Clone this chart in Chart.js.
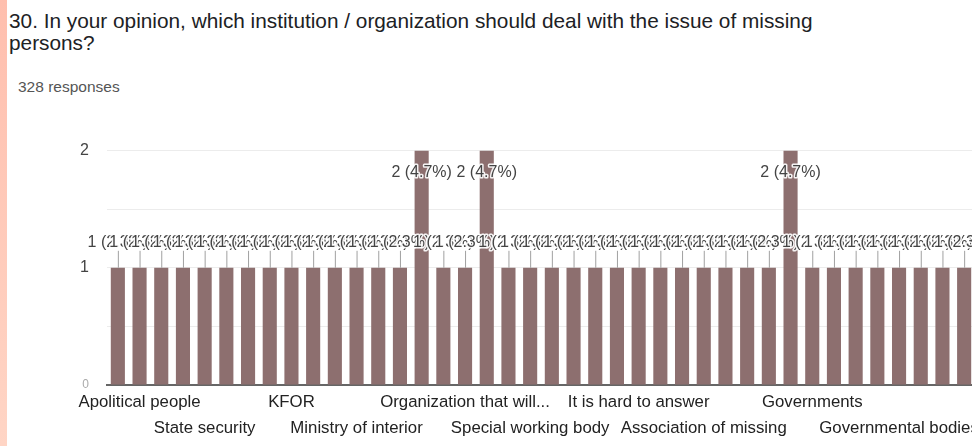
<!DOCTYPE html>
<html>
<head>
<meta charset="utf-8">
<script src="https://cdn.jsdelivr.net/npm/chart.js@4"></script>
<style>
  body { margin: 0; width: 972px; height: 446px; overflow: hidden; background: #fff; font-family: "Liberation Sans", Arial, sans-serif; position: relative; }
  #strip { position: absolute; left: 0; top: 0; width: 7px; height: 446px; background: linear-gradient(#ffbfae, #ffd5c5); }
  #title { position: absolute; left: 9px; top: 10px; font-size: 20.8px; line-height: 22px; color: #202124; }
  #count { position: absolute; left: 18px; top: 78px; font-size: 15.5px; color: #555; }
  #wrap { position: absolute; left: 0; top: 123px; }
</style>
</head>
<body>
<div id="strip"></div>
<div id="title">30. In your opinion, which institution / organization should deal with the issue of missing<br>persons?</div>
<div id="count">328 responses</div>
<div id="wrap"><canvas id="grafico" width="990" height="323"></canvas></div>
<script>
// 40 answers, only the labels that the chart prints are known
var categorias = [
  "", "Apolitical people", "", "", "State security", "", "", "", "KFOR", "",
  "", "Ministry of interior", "", "", "", "", "Organization that will...", "", "", "Special working body",
  "", "", "", "", "It is hard to answer", "", "", "Association of missing", "", "",
  "", "", "Governments", "", "", "", "Governmental bodies", "", "", ""
];
var respuestas = [
  1, 1, 1, 1, 1, 1, 1, 1, 1, 1,
  1, 1, 1, 1, 2, 1, 1, 2, 1, 1,
  1, 1, 1, 1, 1, 1, 1, 1, 1, 1,
  1, 2, 1, 1, 1, 1, 1, 1, 1, 1
];
var ticksY = [0, 1, 2];

var total = respuestas.reduce(function (a, b) { return a + b; }, 0);

// etiquetas "n (x%)" sobre cada barra, con halo blanco como en Google Forms
var anotaciones = {
  id: "anotaciones",
  afterDatasetsDraw: function (chart) {
    var ctx = chart.ctx;
    var meta = chart.getDatasetMeta(0);
    ctx.save();
    ctx.font = "16px 'Liberation Sans', Arial, sans-serif";
    ctx.textAlign = "center";
    ctx.textBaseline = "middle";
    ctx.lineJoin = "round";
    meta.data.forEach(function (bar, i) {
      var v = respuestas[i];
      var texto = v + " (" + (v / total * 100).toFixed(1) + "%)";
      var y;
      if (v >= 2) {
        y = bar.y + 22;
      } else {
        ctx.strokeStyle = "#a0a0a0";
        ctx.lineWidth = 1;
        ctx.beginPath();
        ctx.moveTo(bar.x + 0.5, bar.y);
        ctx.lineTo(bar.x + 0.5, bar.y - 17);
        ctx.stroke();
        y = bar.y - 25;
      }
      ctx.strokeStyle = "rgba(255,255,255,0.9)";
      ctx.lineWidth = 3;
      ctx.strokeText(texto, bar.x, y);
      ctx.fillStyle = "#444";
      ctx.fillText(texto, bar.x, y);
    });
    ctx.restore();
  }
};

var visibles = [];
categorias.forEach(function (c, i) { if (c !== "") visibles.push(i); });

new Chart(document.getElementById("grafico"), {
  type: "bar",
  data: {
    labels: categorias,
    datasets: [{
      data: respuestas,
      backgroundColor: "#8d6f6f",
      barPercentage: 0.65,
      categoryPercentage: 1
    }]
  },
  options: {
    responsive: false,
    animation: false,
    layout: { padding: { top: 13, right: 15, left: 0, bottom: 0 } },
    plugins: {
      legend: { display: false },
      tooltip: { enabled: false }
    },
    scales: {
      x: {
        grid: { display: false, drawTicks: false },
        border: { color: "#666", width: 2 },
        afterFit: function (scale) { scale.height = 61; },
        ticks: {
          autoSkip: false,
          maxRotation: 0,
          minRotation: 0,
          padding: 4,
          color: "#222",
          font: { size: 16.8, family: "'Liberation Sans', Arial, sans-serif", lineHeight: 1.55 },
          callback: function (value, index) {
            var nombre = categorias[index];
            if (!nombre) return "";
            var fila = visibles.indexOf(index) % 2;
            return fila === 0 ? nombre : ["", nombre];
          }
        }
      },
      y: {
        min: 0,
        max: 2,
        border: { display: false },
        grid: { color: "#ececec", drawTicks: false },
        afterFit: function (scale) { scale.width = 107; },
        afterBuildTicks: function (scale) {
          scale.ticks = [0, 0.5, 1, 1.5, 2].map(function (v) { return { value: v }; });
        },
        ticks: {
          padding: 18,
          color: function (c) { return c.tick && c.tick.value === 0 ? "#aaa" : "#444"; },
          font: function (c) {
            return { size: c.tick && c.tick.value === 0 ? 12 : 16, family: "'Liberation Sans', Arial, sans-serif" };
          },
          callback: function (value) { return ticksY.indexOf(value) >= 0 ? value : ""; }
        }
      }
    }
  },
  plugins: [anotaciones]
});
</script>
</body>
</html>
